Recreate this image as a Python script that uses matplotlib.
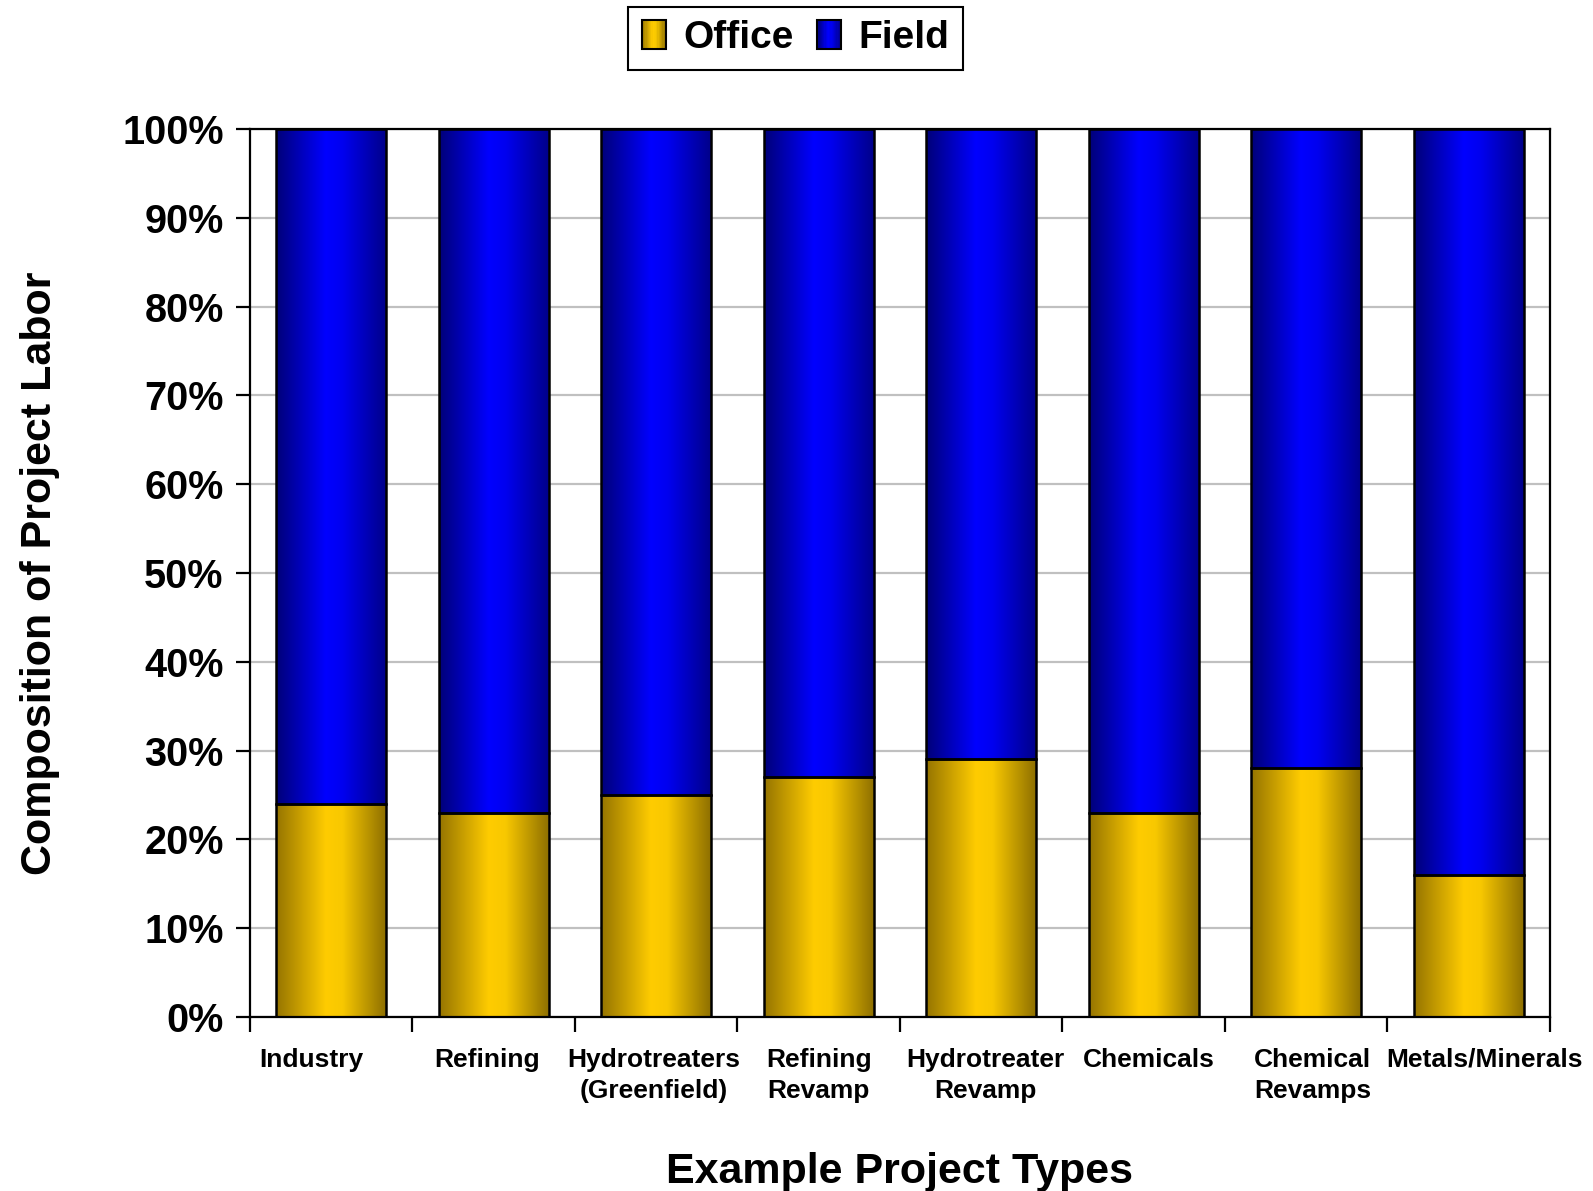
"""
Stacked 100% bar chart: office vs field share of project labor.
"""

import numpy as np
import matplotlib
matplotlib.use("Agg")
import matplotlib.pyplot as plt
import matplotlib.transforms as mtransforms
from matplotlib.colors import LinearSegmentedColormap
from matplotlib.patches import Rectangle
from matplotlib.legend_handler import HandlerBase

plt.rcParams.update({
    "font.family": "Liberation Sans",
    "font.weight": "bold",
})

# ── Data ─────────────────────────────────────────────────────────────────────
categories = [
    "Industry", "Refining", "Hydrotreaters\n(Greenfield)", "Refining\nRevamp",
    "Hydrotreater\nRevamp", "Chemicals", "Chemical\nRevamps", "Metals/Minerals",
]
office = [24, 23, 25, 27, 29, 23, 28, 16]
field = [100 - v for v in office]
y_ticks = [0, 10, 20, 30, 40, 50, 60, 70, 80, 90, 100]

# Excel squeezes the outer category labels inwards a little (points)
LABEL_SHIFT = [-14, -5, -2, 0, 3, 3.5, 4.5, 11]

# horizontal shading: dark edges, bright middle (Excel-style gradient)
GOLD = LinearSegmentedColormap.from_list(
    "gold", [(0, "#957400"), (0.45, "#FFCC00"), (0.6, "#F8C800"), (1, "#8C6E00")])
BLUE = LinearSegmentedColormap.from_list(
    "blue", [(0, "#000078"), (0.45, "#0000FF"), (0.6, "#0000F0"), (1, "#000088")])
GRAD = np.linspace(0, 1, 256).reshape(1, -1)


def shade_bars(ax, bars, cmap):
    for b in bars:
        x, y = b.get_x(), b.get_y()
        w, h = b.get_width(), b.get_height()
        im = ax.imshow(GRAD, cmap=cmap, aspect="auto", interpolation="bicubic",
                       extent=(x, x + w, y, y + h), zorder=2)
        im.set_clip_path(b)


class GradientSquare(HandlerBase):
    """Small shaded legend key with a black outline."""

    def __init__(self, cmap):
        super().__init__()
        self.cmap = cmap

    def create_artists(self, legend, orig, xd, yd, width, height, fontsize, trans):
        h = height * 1.1
        x0, y0 = -xd, -yd - (h - height) / 2
        arts = []
        n = 20
        for i in range(n):
            arts.append(Rectangle((x0 + width * i / n, y0), width / n * 1.05, h,
                                  facecolor=self.cmap((i + 0.5) / n),
                                  edgecolor="none", transform=trans))
        arts.append(Rectangle((x0, y0), width, h, facecolor="none",
                              edgecolor="black", linewidth=1.5, transform=trans))
        return arts


fig = plt.figure(figsize=(15.93, 11.91), dpi=100)
ax = fig.add_axes([0.1569, 0.1461, 0.9730 - 0.1569, 0.8917 - 0.1461])

x = np.arange(len(categories))
width = 0.677
b_off = ax.bar(x, office, width, facecolor="none", edgecolor="black",
               linewidth=1.8, zorder=3)
b_fld = ax.bar(x, field, width, bottom=office, facecolor="none",
               edgecolor="black", linewidth=1.8, zorder=3)
shade_bars(ax, b_off, GOLD)
shade_bars(ax, b_fld, BLUE)

ax.set_xlim(-0.5, len(categories) - 0.5)
ax.set_ylim(0, 100)

ax.set_yticks(y_ticks)
ax.set_yticklabels([f"{v}%" for v in y_ticks], fontsize=28.5, fontweight="bold")
ax.yaxis.grid(True, color="#C0C0C0", linewidth=1.6, zorder=0)
ax.set_axisbelow(True)
ax.tick_params(axis="y", length=10, width=1.6, pad=9, direction="out")

# ticks on category boundaries, labels drawn under the bar centres
ax.set_xticks(np.arange(len(categories) + 1) - 0.5)
ax.set_xticklabels([])
ax.tick_params(axis="x", which="major", length=11, width=1.6, direction="out")
base = ax.get_xaxis_transform()
for xi, name, dx in zip(x, categories, LABEL_SHIFT):
    tr = mtransforms.offset_copy(base, fig=fig, x=dx, y=-22, units="points")
    ax.text(xi, 0, name, transform=tr, ha="center", va="top",
            multialignment="center", fontsize=19, fontweight="bold",
            linespacing=1.4)

for s in ax.spines.values():
    s.set_linewidth(1.6)
    s.set_color("black")

ax.set_xlabel("Example Project Types", fontsize=31, fontweight="bold", labelpad=83)
ax.set_ylabel("Composition of Project Labor", fontsize=31, fontweight="bold",
              labelpad=45)

h_off, h_fld = Rectangle((0, 0), 1, 1), Rectangle((0, 0), 1, 1)
leg = fig.legend([h_off, h_fld], ["Office", "Field"],
                 handler_map={h_off: GradientSquare(GOLD), h_fld: GradientSquare(BLUE)},
                 loc="center", bbox_to_anchor=(0.4995, 0.968), ncol=2,
                 prop={"size": 28, "weight": "bold"}, frameon=True, fancybox=False,
                 edgecolor="black", framealpha=1, handlelength=0.62,
                 handletextpad=0.45, columnspacing=0.6, borderpad=0.35)
leg.get_frame().set_linewidth(1.5)

fig.savefig("out.png", dpi=100)
